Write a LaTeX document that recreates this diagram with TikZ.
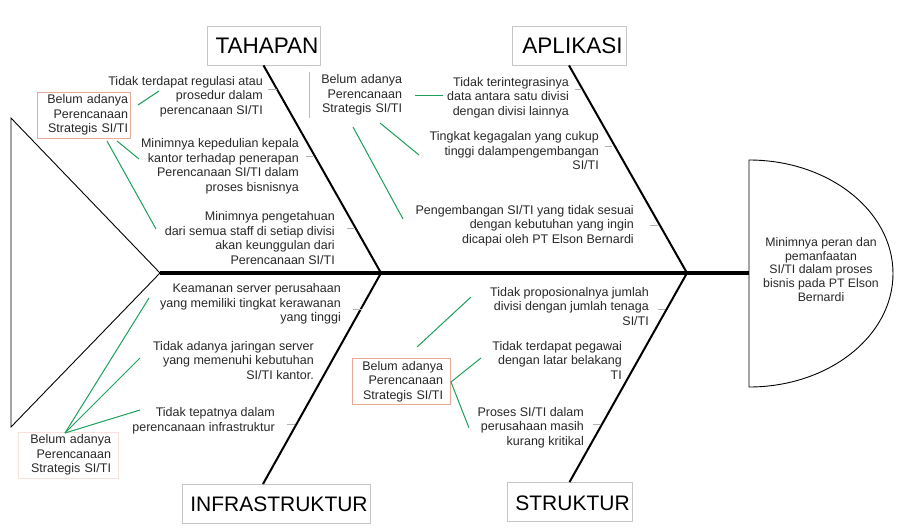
\documentclass[tikz,border=0pt]{standalone}
\usepackage{fontspec}
\setmainfont{Liberation Sans}
\usetikzlibrary{calc}
\definecolor{grn}{RGB}{28,160,90}
\definecolor{pnk}{RGB}{232,170,150}
\definecolor{txt}{RGB}{40,40,40}
\begin{document}
\begin{tikzpicture}[x=1pt,y=-1pt,
  every node/.style={text=txt},
  cause/.style={align=right,anchor=east,inner sep=0pt,font=\fontsize{12.5}{14.5}\selectfont},
  headbox/.style={draw=gray!45,line width=0.8pt,minimum height=39pt,inner sep=0pt},
  headtxt/.style={inner sep=0pt,text=black},
  pbox/.style={draw=pnk,line width=0.8pt,align=right,inner ysep=0pt,minimum height=46pt,font=\fontsize{12.5}{14.5}\selectfont},
  bone/.style={line width=2pt,black},
  glink/.style={draw=grn,line width=1pt},
  tickln/.style={draw=gray!60,line width=0.8pt}]
\useasboundingbox (0,0) rectangle (905,530);
\fill[white] (0,0) rectangle (905,530);

% key coordinates
\coordinate (tailtip) at (160,273);
\coordinate (j1) at (381,273);
\coordinate (j2) at (687,273);
\coordinate (headw) at (749,273);
\coordinate (infb) at (263,484);

% category boxes
\node[headbox,minimum width=113pt] (tah) at (263.5,45.5) {};
\node[headbox,minimum width=114pt] (apl) at (569,45.5) {};
\node[headbox,minimum width=188pt] (inf) at (276,503.5) {};
\node[headbox,minimum width=125pt] (str) at (569.5,502) {};
\node[headtxt,font=\fontsize{22.5}{26}\selectfont] (tahl) at ($(tah.center)+(3.5,0.5)$) {TAHAPAN};
\node[headtxt,font=\fontsize{22.5}{26}\selectfont] (apll) at ($(apl.center)+(3.5,0.5)$) {APLIKASI};
\node[headtxt,font=\fontsize{21}{25}\selectfont] (infl) at ($(inf.center)+(3,1)$) {INFRASTRUKTUR};
\node[headtxt,font=\fontsize{21}{25}\selectfont] (strl) at ($(str.center)+(3,1.5)$) {STRUKTUR};

% tail
\draw[line width=0.9pt] (11,118) -- (tailtip) -- (11,427) -- cycle;
% head
\draw[line width=0.9pt] (749,160) -- (749,387) arc[start angle=-90,end angle=90,x radius=144pt,y radius=113.5pt] -- cycle;
\node[align=center,inner sep=0pt,font=\fontsize{12.3}{13.8}\selectfont] (eff) at (821,269.5)
  {Minimnya peran dan\\pemanfaatan\\SI/TI dalam proses\\bisnis pada PT Elson\\Bernardi};

% spine and bones
\draw[line width=4.5pt] (tailtip) -- (headw);
\draw[bone] (tah.south) -- (j1);
\draw[bone] (apl.south) -- (j2);
\draw[bone] (j1) -- (infb);
\draw[bone] (j2) -- (str.north);

% causes
\node[cause] (t1) at (263,96.5) {Tidak terdapat regulasi atau\\prosedur dalam\\perencanaan SI/TI};
\node[cause] (t2) at (299,166.5) {Minimnya kepedulian kepala\\kantor terhadap penerapan\\Perencanaan SI/TI dalam\\proses bisnisnya};
\node[cause] (t3) at (335,238) {Minimnya pengetahuan\\dari semua staff di setiap divisi\\akan keunggulan dari\\Perencanaan SI/TI};
\node[cause] (a1) at (569,97.5) {Tidak terintegrasinya\\data antara satu divisi\\dengan divisi lainnya};
\node[cause] (a2) at (599,151) {Tingkat kegagalan yang cukup\\tinggi dalampengembangan\\SI/TI};
\node[cause] (a3) at (634,225.5) {Pengembangan SI/TI yang tidak sesuai\\dengan kebutuhan yang ingin\\dicapai oleh PT Elson Bernardi};
\node[cause] (i1) at (341,304) {Keamanan server perusahaan\\yang memiliki tingkat kerawanan\\yang tinggi};
\node[cause] (i2) at (314,360.5) {Tidak adanya jaringan server\\yang memenuhi kebutuhan\\SI/TI kantor.};
\node[cause] (i3) at (275,421) {Tidak tepatnya dalam\\perencanaan infrastruktur};
\node[cause] (s1) at (649,306.5) {Tidak proposionalnya jumlah\\divisi dengan jumlah tenaga\\SI/TI};
\node[cause] (s2) at (622,360) {Tidak terdapat pegawai\\dengan latar belakang\\TI};
\node[cause] (s3) at (584,427.5) {Proses SI/TI dalam\\perusahaan masih\\kurang kritikal};

% ticks
\draw[tickln] ($(t1.east)+(5,-7.5)$) -- ++(9,0);
\draw[tickln] ($(t2.east)+(7,-10.5)$) -- ++(7,0);
\draw[tickln] ($(t3.east)+(12,-10)$) -- ++(8,0);
\draw[tickln] ($(a1.east)+(6,-8.5)$) -- ++(7,0);
\draw[tickln] ($(a2.east)+(6,-5)$) -- ++(7,0);
\draw[tickln] ($(a3.east)+(16,-0.5)$) -- ++(8,0);
\draw[tickln] ($(i1.east)+(12,5)$) -- ++(9,0);
\draw[tickln] ($(i3.east)+(12,3)$) -- ++(8,0);
\draw[tickln] ($(s1.east)+(9,2.5)$) -- ++(7,0);
\draw[tickln] ($(s3.east)+(9,-3.5)$) -- ++(7,0);

% root-cause boxes
\node[pbox,text width=89pt,inner xsep=2pt] (pt) at (83.5,115) {Belum adanya\\Perencanaan\\Strategis SI/TI};
\node[pbox,draw=none,text width=88pt,inner xsep=4pt] (pa) at (358,95) {Belum adanya\\Perencanaan\\Strategis SI/TI};
\draw[pnk,line width=0.8pt] (pa.north west) -- (pa.south west);
\node[pbox,draw=pnk!35,text width=86pt,inner xsep=7pt] (pi) at (68,455) {Belum adanya\\Perencanaan\\Strategis SI/TI};
\node[pbox,text width=84pt,inner xsep=7pt] (ps) at (401,381.5) {Belum adanya\\Perencanaan\\Strategis SI/TI};

% green links
\coordinate (gt0) at (138,105); \coordinate (gt1) at (159,91);
\coordinate (gt2) at (117,141); \coordinate (gt3) at (139,159);
\coordinate (gt4) at (107,141); \coordinate (gt5) at (156,229);
\draw[glink] (gt0) -- (gt1);
\draw[glink] (gt2) -- (gt3);
\draw[glink] (gt4) -- (gt5);

\coordinate (ga0) at (415,95); \coordinate (ga1) at (443,95);
\coordinate (ga2) at (380,123); \coordinate (ga3) at (419,155);
\coordinate (ga4) at (353,127); \coordinate (ga5) at (403,219);
\draw[glink] (ga0) -- (ga1);
\draw[glink] (ga2) -- (ga3);
\draw[glink] (ga4) -- (ga5);

\coordinate (gi0) at (65,433);
\coordinate (gi1) at (149,298); \coordinate (gi2) at (140,358); \coordinate (gi3) at (140,410);
\draw[glink] (gi0) -- (gi1);
\draw[glink] (gi0) -- (gi2);
\draw[glink] (gi0) -- (gi3);

\coordinate (gs0) at (417,347); \coordinate (gs1) at (471,297);
\coordinate (gs2) at (451,382); \coordinate (gs3) at (481,358); \coordinate (gs4) at (469,428);
\draw[glink] (gs0) -- (gs1);
\draw[glink] (gs3) -- (gs2) -- (gs4);
\end{tikzpicture}
\end{document}
